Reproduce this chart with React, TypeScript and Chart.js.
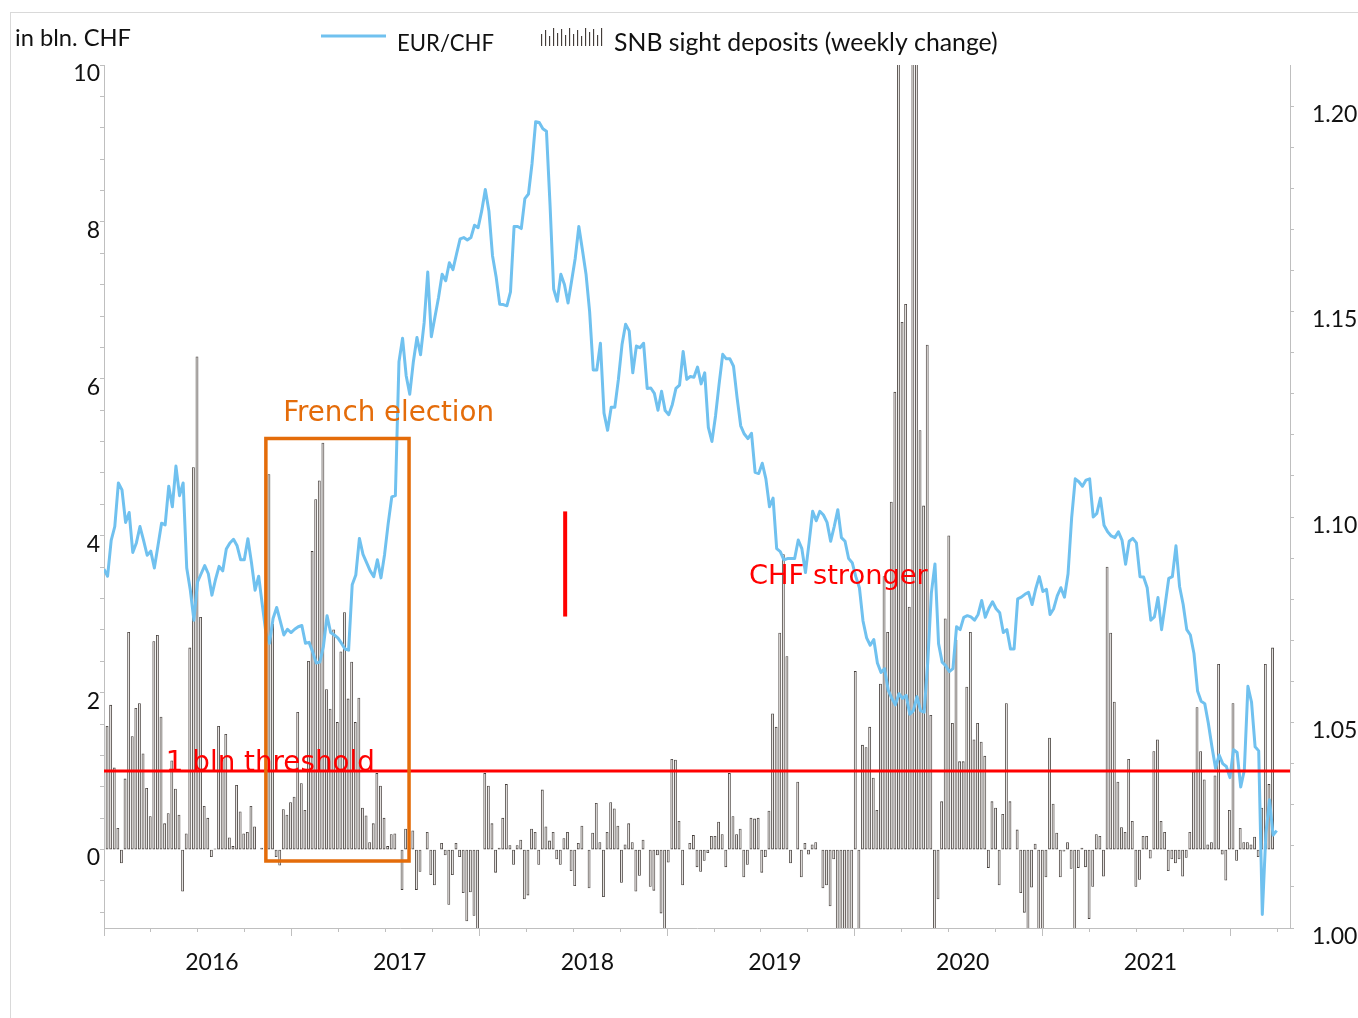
import React, { useEffect, useRef } from 'react';
import { Chart, registerables } from 'chart.js';

Chart.register(...registerables);

const W = 1358;
const H = 1018;

// ---------- data ----------
const YEAR_LABELS = ['2016', '2017', '2018', '2019', '2020', '2021'];
const LEFT_LABELS = [0, 2, 4, 6, 8, 10];
const RIGHT_LABELS = [1.0, 1.05, 1.1, 1.15, 1.2];
const THRESHOLD = 1;

// EUR/CHF, weekly, starting first week of January 2016
const EUR_CHF = [
  1.0873, 1.0856, 1.0943, 1.0977, 1.1083, 1.1066, 1.0987, 1.1011, 1.0914, 1.0937,
  1.0977, 1.0943, 1.0907, 1.0917, 1.0876, 1.093, 1.0985, 1.0981, 1.1075, 1.1025,
  1.1124, 1.1052, 1.1083, 1.0876, 1.0822, 1.0749, 1.0842, 1.0862, 1.0882, 1.0862,
  1.081, 1.0848, 1.088, 1.0869, 1.0922, 1.0937, 1.0946, 1.093, 1.0896, 1.0896,
  1.0947, 1.0889, 1.0822, 1.0856, 1.0787, 1.0719, 1.0693, 1.0753, 1.078, 1.0747,
  1.0713, 1.0727, 1.0719, 1.0727, 1.0733, 1.0736, 1.0693, 1.0695, 1.0672, 1.0645,
  1.0647, 1.0685, 1.076, 1.0719, 1.0713, 1.0706, 1.0693, 1.0679, 1.0676, 1.0835,
  1.0859, 1.0948, 1.0909, 1.0889, 1.0869, 1.0855, 1.0896, 1.0852, 1.0909, 1.0984,
  1.1049, 1.1052, 1.1378, 1.1435, 1.1344, 1.1299, 1.1378, 1.1437, 1.1395, 1.1473,
  1.1596, 1.1439, 1.1487, 1.1534, 1.1591, 1.1575, 1.1619, 1.1602, 1.164, 1.1677,
  1.168, 1.1674, 1.168, 1.171, 1.1704, 1.1745, 1.1797, 1.1745, 1.1636, 1.1585,
  1.1518, 1.1517, 1.1514, 1.1548, 1.1707, 1.1707, 1.1702, 1.1775, 1.1786, 1.1861,
  1.1962, 1.196, 1.1945, 1.1939, 1.1759, 1.1555, 1.1525, 1.1591, 1.1566, 1.1521,
  1.1575, 1.163, 1.1707, 1.165, 1.1591, 1.15, 1.1358, 1.1358, 1.1423, 1.1253,
  1.1211, 1.1267, 1.1267, 1.1335, 1.1419, 1.1469, 1.1453, 1.1351, 1.1416, 1.1412,
  1.1423, 1.1313, 1.1314, 1.1301, 1.126, 1.1306, 1.1259, 1.1249, 1.1274, 1.1313,
  1.1321, 1.1403, 1.1335, 1.1342, 1.134, 1.1365, 1.1324, 1.1351, 1.1218, 1.1184,
  1.1246, 1.1324, 1.1396, 1.1385, 1.1385, 1.1367, 1.129, 1.1222, 1.1202, 1.1191,
  1.1204, 1.1109, 1.1106, 1.1131, 1.1093, 1.1025, 1.1046, 1.0923, 1.0916, 1.0896,
  1.0899, 1.0899, 1.0899, 1.0944, 1.0923, 1.0865, 1.0937, 1.1014, 1.0991, 1.1014,
  1.1005, 1.0987, 1.0941, 1.0977, 1.1018, 1.095, 1.0941, 1.0899, 1.0889, 1.0855,
  1.0828, 1.0747, 1.0706, 1.0688, 1.0702, 1.0645, 1.0622, 1.0631, 1.0579, 1.0559,
  1.0543, 1.057, 1.0559, 1.0566, 1.052, 1.0529, 1.0563, 1.0529, 1.0525, 1.0647,
  1.0815, 1.0886, 1.0692, 1.0647, 1.0638, 1.0624, 1.0631, 1.0733, 1.0726, 1.0756,
  1.076, 1.0757, 1.0749, 1.0763, 1.0797, 1.0756, 1.0778, 1.0794, 1.0777, 1.0767,
  1.0719, 1.0726, 1.0679, 1.0679, 1.0801, 1.0805, 1.0812, 1.0817, 1.0787, 1.0825,
  1.0855, 1.0819, 1.0824, 1.0763, 1.0777, 1.0808, 1.0828, 1.0805, 1.0862, 1.0998,
  1.1093, 1.1086, 1.1075, 1.109, 1.1093, 1.1, 1.1009, 1.1046, 1.098, 1.0964,
  1.0954, 1.095, 1.0964, 1.0944, 1.0885, 1.0941, 1.0948, 1.0937, 1.0855, 1.0854,
  1.0828, 1.0749, 1.0757, 1.0804, 1.0726, 1.0787, 1.0851, 1.0855, 1.093, 1.0831,
  1.0787, 1.0726, 1.0713, 1.0668, 1.0577, 1.0552, 1.0546, 1.0498, 1.0441, 1.0389,
  1.0421, 1.04, 1.0393, 1.0366, 1.0434, 1.0427, 1.0343, 1.0384, 1.0588, 1.055,
  1.0441, 1.0431, 1.0033, 1.023, 1.0312, 1.0226, 1.0237,
];

// SNB sight deposits, weekly change in bln CHF
const SIGHT_DEPOSITS = [
  1.57, 1.84, 1.04, 0.27, -0.17, 0.9, 2.77, 1.44, 1.8, 1.86,
  1.22, 0.78, 0.42, 2.65, 2.73, 1.69, 0.33, 0.46, 1.13, 0.77,
  0.44, -0.53, 0.2, 2.57, 4.87, 6.28, 2.96, 0.55, 0.4, -0.09,
  0.01, 1.57, 1.14, 1.47, 0.15, 0.04, 0.82, 0.48, 0.2, 0.22,
  0.55, 0.29, 0.0, 0.02, 0.0, 4.78, 2.87, -0.09, -0.2, 0.51,
  0.44, 0.6, 0.67, 1.75,
  0.84, 0.5, 2.4, 3.8, 4.46, 4.7, 5.18, 2.04, 1.79, 2.8,
  1.62, 2.52, 3.02, 1.92, 2.39, 1.62, 1.93, 0.53, 0.43, 0.09,
  0.33, 0.97, 0.81, 0.4, 0.04, 0.19, 0.2, 0.0, -0.51, 0.26,
  0.02, 0.24, -0.51, -0.28, 0.0, 0.22, -0.32, -0.45, 0.0, 0.08,
  -0.07, -0.7, -0.32, 0.08, -0.09, -0.55, -0.91, -0.54, -0.84, -1.1,
  0.0, 0.97, 0.81, 0.33,
  -0.29, 0.02, 0.4, 0.83, 0.05, -0.19, 0.05, 0.12, -0.63, -0.58,
  0.26, 0.22, -0.19, 0.76, 0.29, 0.11, 0.22, -0.12, -0.19, 0.14,
  0.22, -0.27, -0.46, 0.08, 0.3, 0.0, -0.49, 0.21, 0.59, 0.09,
  -0.6, 0.22, 0.6, 0.52, 0.3, -0.42, 0.06, 0.33, 0.09, -0.53,
  -0.33, 0.12, 0.0, -0.47, -0.52, -0.07, -0.81, -1.2, -0.16, 1.15,
  1.14, 0.36, -0.45, 0.0, 0.08,
  0.18, -0.22, -0.28, -0.14, -0.04, 0.17, 0.17, 0.35, 0.19, -0.22,
  0.97, 0.42, 0.19, 0.26, -0.35, -0.19, 0.4, 0.39, 0.4, -0.29,
  -0.09, 0.49, 1.73, 1.56, 2.76, 3.76, 2.46, -0.17, 0.0, 0.86,
  -0.35, 0.08, -0.06, 0.06, 0.09, 0.0, -0.49, -0.45, -0.72, -0.12,
  -1.3, -1.3, -1.3, -1.3, -1.3, 2.27, -1.3, 1.33, 1.3, 1.56,
  0.91, 0.5, 2.11, 3.48,
  2.77, 4.43, 5.83, 14, 6.72, 6.95, 3.09, 12.5, 13, 5.34,
  4.38, 6.43, 1.71, -1.3, -0.63, 0.61, 2.94, 4.0, 1.61, 2.67,
  1.12, 1.12, 2.07, 2.77, 1.4, 1.61, 1.37, 1.19, -0.23, 0.61,
  0.53, -0.45, 0.45, 1.86, 0.61, 0.0, 0.25, -0.55, -0.8, -1.3,
  -0.48, 0.07, -1.3, -1.3, -0.35, 1.42, 0.58, 0.21, -0.35, -0.02,
  0.09, -0.24, -1.3, -0.23,
  0.02, -0.22, -0.88, -0.47, 0.19, 0.17, -0.34, 3.6, 2.76, 1.88,
  0.86, 0.28, 0.22, 1.15, 0.36, -0.47, -0.38, 0.17, 0.17, -0.11,
  1.25, 1.4, 0.36, 0.22, -0.27, -0.12, -0.17, -0.12, -0.34, -0.1,
  0.22, 0.99, 1.81, 1.25, 0.89, 0.06, 0.09, 0.94, 2.36, -0.06,
  -0.39, 0.5, 1.86, -0.14, 0.27, 0.09, 0.09, 0.06, 0.16, -0.09,
  0.53, 2.36, 0.83, 2.57,
];

// ---------- layout / style constants ----------
const WEEKS_PER_YEAR = 52.18;
const X_MAX = 329.7; // weeks since start of 2016 shown on axis
const BAR_SHIFT = 0.85;
const YEAR_LABEL_OFFSET = 30;

const BLUE = '#70c1ef';
const RED = '#ff0000';
const ORANGE = '#e46c0a';
const AXIS = '#bfbfbf';
const TEXT = '#111111';
const BAR_FILL = '#e4e1df';
const BAR_EDGE = '#433d3a';
const TICK_FONT = 'Lato, "Open Sans", sans-serif';
const NOTE_FONT = '"DejaVu Sans", Verdana, sans-serif';

// annotation geometry (x in weeks, y in bln CHF)
const ELECTION_BOX = { x0: 45.0, x1: 84.8, y0: -0.147, y1: 5.24 };
const MARKER = { x: 128.2, y0: 2.97, y1: 4.31 };

const quarterTicks = () => {
  const out: number[] = [];
  for (let q = 0; (q * WEEKS_PER_YEAR) / 4 <= X_MAX; q++) out.push((q * WEEKS_PER_YEAR) / 4);
  return out;
};
const yearTicks = () => {
  const out: number[] = [];
  for (let y = 0; y * WEEKS_PER_YEAR <= X_MAX; y++) out.push(y * WEEKS_PER_YEAR);
  return out;
};

function fitText(
  ctx: CanvasRenderingContext2D, text: string, x: number, y: number,
  width: number, family: string, color: string
) {
  ctx.font = `100px ${family}`;
  const w = ctx.measureText(text).width;
  const size = (100 * width) / w;
  ctx.font = `${size}px ${family}`;
  ctx.fillStyle = color;
  ctx.textAlign = 'left';
  ctx.textBaseline = 'alphabetic';
  ctx.fillText(text, x, y);
}

const overlay = {
  id: 'overlay',
  beforeDraw(chart: any) {
    const ctx = chart.ctx as CanvasRenderingContext2D;
    ctx.save();
    ctx.fillStyle = '#ffffff';
    ctx.fillRect(0, 0, W, H);
    ctx.strokeStyle = '#d9d9d9';
    ctx.lineWidth = 1;
    ctx.strokeRect(10.5, 12.5, W + 20, H + 20);
    ctx.restore();
  },
  afterDatasetsDraw(chart: any) {
    const ctx = chart.ctx as CanvasRenderingContext2D;
    const xs = chart.scales.x;
    const ys = chart.scales.y;
    ctx.save();
    fitText(ctx, 'French election', xs.getPixelForValue(49.8), ys.getPixelForValue(5.46), 211, NOTE_FONT, ORANGE);
    fitText(ctx, '1 bln threshold', xs.getPixelForValue(17.2), ys.getPixelForValue(0.997), 209, NOTE_FONT, RED);
    fitText(ctx, 'CHF stronger', xs.getPixelForValue(179.3), ys.getPixelForValue(3.39), 179, NOTE_FONT, RED);
    ctx.restore();
  },
  afterDraw(chart: any) {
    const ctx = chart.ctx as CanvasRenderingContext2D;
    ctx.save();
    fitText(ctx, 'in bln. CHF', 15, 46, 116, TICK_FONT, TEXT);
    // legend: EUR/CHF
    ctx.strokeStyle = BLUE;
    ctx.lineWidth = 3;
    ctx.beginPath();
    ctx.moveTo(321, 36);
    ctx.lineTo(386, 36);
    ctx.stroke();
    fitText(ctx, 'EUR/CHF', 397, 51, 97, TICK_FONT, TEXT);
    // legend: bar icon
    const hs = [12, 16, 10, 18, 13, 17, 11, 18, 12, 16, 10, 18, 14, 17, 11, 18];
    hs.forEach((h, i) => {
      const bx = 541 + i * 4;
      ctx.fillStyle = BAR_FILL;
      ctx.fillRect(bx, 46 - h, 2, h);
      ctx.fillStyle = BAR_EDGE;
      ctx.fillRect(bx, 46 - h, 1, h);
    });
    fitText(ctx, 'SNB sight deposits (weekly change)', 614, 51, 384, TICK_FONT, TEXT);
    ctx.restore();
  },
};

export default function App() {
  const ref = useRef<HTMLCanvasElement | null>(null);

  useEffect(() => {
    const canvas = ref.current;
    if (!canvas) return;

    const linePts = EUR_CHF.map((v, i) => ({ x: i, y: v }));
    const barPts = SIGHT_DEPOSITS.map((v, k) => ({ x: k + BAR_SHIFT, y: v }));
    const b = ELECTION_BOX;
    const boxPts = [
      { x: b.x0, y: b.y0 }, { x: b.x0, y: b.y1 }, { x: b.x1, y: b.y1 },
      { x: b.x1, y: b.y0 }, { x: b.x0, y: b.y0 },
    ];

    const tickFont = { family: TICK_FONT, size: 23 };
    const xCommon = {
      type: 'linear', position: 'bottom', min: 0, max: X_MAX, bounds: 'data', offset: false,
    };

    const chart = new Chart(canvas, {
      type: 'bar',
      data: {
        datasets: [
          {
            type: 'line', label: 'box', data: boxPts, xAxisID: 'x', yAxisID: 'y',
            borderColor: ORANGE, borderWidth: 3.5, pointRadius: 0, tension: 0,
            borderJoinStyle: 'miter', borderCapStyle: 'square', order: 0, clip: false,
          } as any,
          {
            type: 'line', label: 'threshold',
            data: [{ x: 0, y: THRESHOLD }, { x: X_MAX, y: THRESHOLD }],
            xAxisID: 'x', yAxisID: 'y', borderColor: RED, borderWidth: 3, pointRadius: 0, order: 1,
          } as any,
          {
            type: 'line', label: 'marker',
            data: [{ x: MARKER.x, y: MARKER.y0 }, { x: MARKER.x, y: MARKER.y1 }],
            xAxisID: 'x', yAxisID: 'y', borderColor: RED, borderWidth: 4, pointRadius: 0, order: 1,
          } as any,
          {
            type: 'line', label: 'EUR/CHF', data: linePts, xAxisID: 'x', yAxisID: 'y1',
            borderColor: BLUE, borderWidth: 3, pointRadius: 0, tension: 0,
            borderJoinStyle: 'round', order: 2,
          } as any,
          {
            type: 'bar', label: 'SNB sight deposits (weekly change)', data: barPts,
            xAxisID: 'x', yAxisID: 'y', backgroundColor: BAR_FILL, borderColor: BAR_EDGE,
            borderWidth: 0.8, borderSkipped: false, barThickness: 2.2, order: 3,
          } as any,
        ],
      },
      options: {
        responsive: false,
        maintainAspectRatio: false,
        animation: false,
        events: [],
        layout: { padding: { top: 65, left: 0, right: 0, bottom: 0 } },
        plugins: { legend: { display: false }, tooltip: { enabled: false }, title: { display: false } },
        scales: {
          x: {
            ...xCommon, weight: 0,
            afterBuildTicks: (s: any) => { s.ticks = quarterTicks().map((v) => ({ value: v })); },
            ticks: { display: false },
            grid: { offset: false, drawOnChartArea: false, drawTicks: true, tickLength: 4, color: AXIS, tickColor: AXIS },
            border: { display: true, color: AXIS, width: 1 },
            afterFit: (s: any) => { s.height = 4; },
          },
          xYear: {
            ...xCommon, weight: 1,
            afterBuildTicks: (s: any) => { s.ticks = yearTicks().map((v) => ({ value: v })); },
            ticks: { display: false },
            grid: { offset: false, drawOnChartArea: false, drawTicks: true, tickLength: 4, color: AXIS, tickColor: AXIS },
            border: { display: false },
            afterFit: (s: any) => { s.height = 4; },
          },
          xLab: {
            ...xCommon, weight: 2,
            afterBuildTicks: (s: any) => {
              s.ticks = YEAR_LABELS.map((_, n) => ({ value: n * WEEKS_PER_YEAR + YEAR_LABEL_OFFSET }));
            },
            ticks: {
              autoSkip: false, maxRotation: 0, minRotation: 0, padding: 13,
              font: tickFont, color: TEXT,
              callback: (_v: any, i: number) => YEAR_LABELS[i],
            },
            grid: { offset: false, display: false, drawOnChartArea: false, drawTicks: false },
            border: { display: false },
            afterFit: (s: any) => { s.height = 82; },
          },
          y: {
            type: 'linear', position: 'left', min: -1, max: 10, bounds: 'data',
            afterBuildTicks: (s: any) => {
              const t: { value: number }[] = [];
              for (let n = -2; n <= 25; n++) t.push({ value: Math.round(n * 4) / 10 });
              s.ticks = t;
            },
            ticks: {
              autoSkip: false, padding: 0, labelOffset: 8.5, font: tickFont, color: TEXT,
              callback: (v: any) => {
                const r = Math.round(v);
                return Math.abs(v - r) < 1e-6 && LEFT_LABELS.includes(r) ? String(r) : '';
              },
            },
            grid: { drawOnChartArea: false, drawTicks: true, tickLength: 4, color: AXIS, tickColor: AXIS },
            border: { display: true, color: AXIS, width: 1 },
            afterFit: (s: any) => { s.width = 104; },
          },
          y1: {
            type: 'linear', position: 'right', min: 1.0, max: 1.21, bounds: 'data',
            afterBuildTicks: (s: any) => {
              const t: { value: number }[] = [];
              for (let n = 0; n <= 20; n++) t.push({ value: Math.round((1 + n * 0.01) * 100) / 100 });
              s.ticks = t;
            },
            ticks: {
              autoSkip: false, padding: 18, labelOffset: 8.5, font: tickFont, color: TEXT,
              callback: (v: any) => {
                const hit = RIGHT_LABELS.find((r) => Math.abs(r - v) < 1e-6);
                return hit !== undefined ? hit.toFixed(2) : '';
              },
            },
            grid: { drawOnChartArea: false, drawTicks: true, tickLength: 4, color: AXIS, tickColor: AXIS },
            border: { display: true, color: AXIS, width: 1 },
            afterFit: (s: any) => { s.width = 68; },
          },
        },
      } as any,
      plugins: [overlay as any],
    });

    return () => chart.destroy();
  }, []);

  return (
    <div style={{ position: 'fixed', left: 0, top: 0, width: W, height: H, background: '#fff' }}>
      <canvas ref={ref} width={W} height={H} style={{ width: W, height: H, display: 'block' }} />
    </div>
  );
}
